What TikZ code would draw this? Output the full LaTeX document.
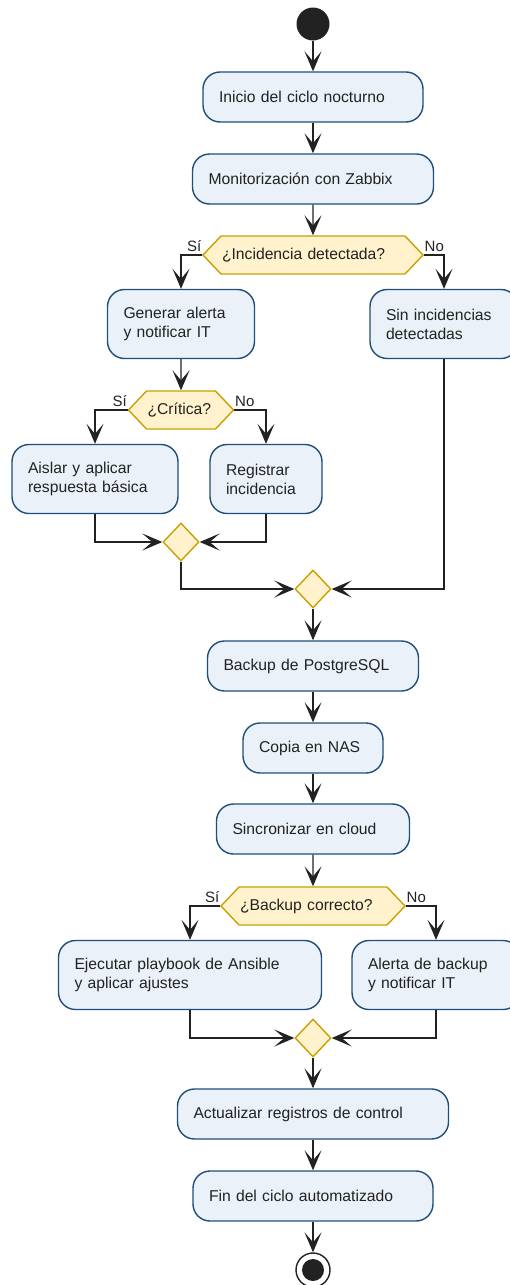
\documentclass[tikz,border=0pt]{standalone}
\usepackage{fontspec}
\setmainfont{Liberation Sans}
\usetikzlibrary{shapes.geometric,shapes.symbols,arrows.meta}

\definecolor{boxfill}{HTML}{EAF1F8}
\definecolor{boxline}{HTML}{1F4E79}
\definecolor{decfill}{HTML}{FFF2CC}
\definecolor{decline}{HTML}{C9A000}
\definecolor{ink}{HTML}{222222}

\begin{document}
\begin{tikzpicture}[x=1pt, y=-1pt]
\useasboundingbox (0,0) rectangle (510,1285);

\coordinate (P_start) at (313, 24);
\coordinate (P_inicio) at (313, 97);
\coordinate (P_monitor) at (313, 179);
\coordinate (P_incid) at (313, 255);
\coordinate (P_alerta) at (181, 324);
\coordinate (P_sininc) at (444, 324);
\coordinate (P_critica) at (181, 410);
\coordinate (P_aislar) at (95, 479);
\coordinate (P_registrar) at (266, 479);
\coordinate (P_merge1) at (181, 542);
\coordinate (P_merge2) at (313, 589);
\coordinate (P_backup) at (313, 666);
\coordinate (P_copia) at (313, 748);
\coordinate (P_sync) at (313, 829);
\coordinate (P_bkok) at (313, 906);
\coordinate (P_ansible) at (190, 975);
\coordinate (P_alertabk) at (436, 975);
\coordinate (P_merge3) at (313, 1038);
\coordinate (P_actualizar) at (313, 1114);
\coordinate (P_fin) at (313, 1196);
\coordinate (P_stop) at (313, 1270);


\tikzset{BoxStyle/.style = {
 shape = rectangle,
 rounded corners = 17pt,
 draw = boxline,
 fill = boxfill,
 line width = 1.4pt,
 text = ink,
 align = left,
 inner xsep = 16pt,
 inner ysep = 2pt,
 font = \fontsize{15.7}{19}\selectfont} }

\tikzset{HexStyle/.style = {
 shape = signal,
 signal to = west and east,
 signal pointer angle = 93,
 draw = decline,
 fill = decfill,
 line width = 1.4pt,
 text = ink,
 align = left,
 inner xsep = 1pt,
 inner ysep = 2pt,
 minimum height = 38pt,
 font = \fontsize{15.7}{19}\selectfont} }

\tikzset{MergeStyle/.style = {
 shape = diamond,
 draw = decline,
 fill = decfill,
 line width = 1.4pt,
 inner sep = 0pt,
 minimum width = 36pt,
 minimum height = 38pt} }

\tikzset{LabelStyle/.style = {
 text = ink,
 inner xsep = 0.5pt,
 inner ysep = 3pt,
 font = \fontsize{15}{18}\selectfont} }

\node[circle, fill=ink, minimum size=33pt, inner sep=0pt] (start) at (P_start) {};
\node[BoxStyle, text width=188pt, minimum height=50pt] (inicio) at (P_inicio) {Inicio del ciclo nocturno};
\node[BoxStyle, text width=209pt, minimum height=50pt] (monitor) at (P_monitor) {Monitorización con Zabbix};
\node[HexStyle, text width=182pt] (incid) at (P_incid) {¿Incidencia detectada?};
\node[BoxStyle, text width=115pt, minimum height=69pt] (alerta) at (P_alerta) {Generar alerta\\y notificar IT};
\node[BoxStyle, text width=116pt, minimum height=69pt] (sininc) at (P_sininc) {Sin incidencias\\detectadas};
\node[HexStyle, text width=67pt] (critica) at (P_critica) {¿Crítica?};
\node[BoxStyle, text width=134pt, minimum height=69pt] (aislar) at (P_aislar) {Aislar y aplicar\\respuesta básica};
\node[BoxStyle, text width=80pt, minimum height=69pt] (registrar) at (P_registrar) {Registrar\\incidencia};
\node[MergeStyle] (merge1) at (P_merge1) {};
\node[MergeStyle] (merge2) at (P_merge2) {};
\node[BoxStyle, text width=179pt, minimum height=50pt] (backup) at (P_backup) {Backup de PostgreSQL};
\node[BoxStyle, text width=108pt, minimum height=50pt] (copia) at (P_copia) {Copia en NAS};
\node[BoxStyle, text width=161pt, minimum height=50pt] (sync) at (P_sync) {Sincronizar en cloud};
\node[HexStyle, text width=146pt] (bkok) at (P_bkok) {¿Backup correcto?};
\node[BoxStyle, text width=231pt, minimum height=69pt] (ansible) at (P_ansible) {Ejecutar playbook de Ansible\\y aplicar ajustes};
\node[BoxStyle, text width=136pt, minimum height=69pt] (alertabk) at (P_alertabk) {Alerta de backup\\y notificar IT};
\node[MergeStyle] (merge3) at (P_merge3) {};
\node[BoxStyle, text width=239pt, minimum height=50pt] (actualizar) at (P_actualizar) {Actualizar registros de control};
\node[BoxStyle, text width=208pt, minimum height=50pt] (fin) at (P_fin) {Fin del ciclo automatizado};
\node[circle, draw=ink, line width=1.4pt, fill=white, minimum size=34pt, inner sep=0pt,
 path picture={\fill[ink] (path picture bounding box.center) circle (11pt);}] (stop) at (P_stop) {};


\tikzset{EdgeStyle/.style = {draw=ink, line width=1.3pt,
 -{Stealth[length=20pt, width=17pt, inset=10pt]}} }

\draw[EdgeStyle] (start) -- (inicio);
\draw[EdgeStyle] (inicio) -- (monitor);
\draw[EdgeStyle] (monitor) -- (incid);
\draw[EdgeStyle] (incid.west) -| (alerta.north);
\draw[EdgeStyle] (incid.east) -| (sininc.north);
\draw[EdgeStyle] (alerta) -- (critica);
\draw[EdgeStyle] (critica.west) -| (aislar.north);
\draw[EdgeStyle] (critica.east) -| (registrar.north);
\draw[EdgeStyle] (aislar.south) |- (merge1.west);
\draw[EdgeStyle] (registrar.south) |- (merge1.east);
\draw[EdgeStyle] (merge1.south) |- (merge2.west);
\draw[EdgeStyle] (sininc.south) |- (merge2.east);
\draw[EdgeStyle] (merge2) -- (backup);
\draw[EdgeStyle] (backup) -- (copia);
\draw[EdgeStyle] (copia) -- (sync);
\draw[EdgeStyle] (sync) -- (bkok);
\draw[EdgeStyle] (bkok.west) -| (ansible.north);
\draw[EdgeStyle] (bkok.east) -| (alertabk.north);
\draw[EdgeStyle] (ansible.south) |- (merge3.west);
\draw[EdgeStyle] (alertabk.south) |- (merge3.east);
\draw[EdgeStyle] (merge3) -- (actualizar);
\draw[EdgeStyle] (actualizar) -- (fin);
\draw[EdgeStyle] (fin) -- (stop);


\node[LabelStyle, anchor=south east] (si1) at (incid.west) {Sí};
\node[LabelStyle, anchor=south west] (no1) at (incid.east) {No};
\node[LabelStyle, anchor=south east] (si2) at (critica.west) {Sí};
\node[LabelStyle, anchor=south west] (no2) at (critica.east) {No};
\node[LabelStyle, anchor=south east] (si3) at (bkok.west) {Sí};
\node[LabelStyle, anchor=south west] (no3) at (bkok.east) {No};

\end{tikzpicture}
\end{document}
